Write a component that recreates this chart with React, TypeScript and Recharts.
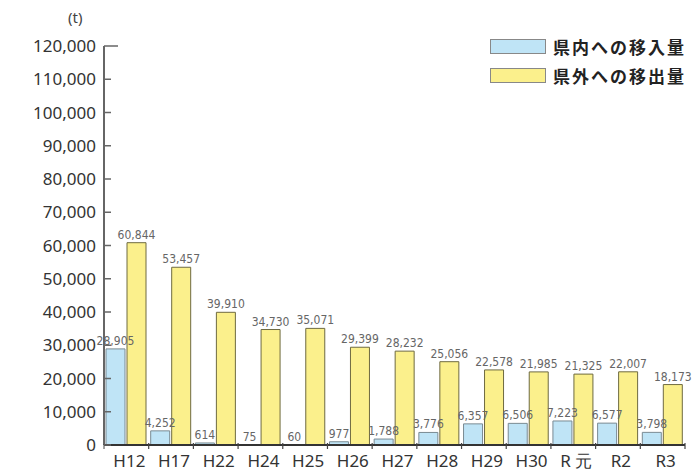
import { BarChart, Bar, XAxis, YAxis, LabelList } from 'recharts';

const categories = ['H12', 'H17', 'H22', 'H24', 'H25', 'H26', 'H27', 'H28', 'H29', 'H30', 'R 元', 'R2', 'R3'];
const inflow = [28905, 4252, 614, 75, 60, 977, 1788, 3776, 6357, 6506, 7223, 6577, 3798];
const outflow = [60844, 53457, 39910, 34730, 35071, 29399, 28232, 25056, 22578, 21985, 21325, 22007, 18173];
const yTicks = [0, 10000, 20000, 30000, 40000, 50000, 60000, 70000, 80000, 90000, 100000, 110000, 120000];

const data = categories.map((c, i) => ({ name: c, inflow: inflow[i], outflow: outflow[i] }));

const AXIS_X = 104;
const BAND = 581 / 13;

const fmt = (v: number) => v.toLocaleString('en-US');

const YTick = (props: any) => {
  const { y, payload } = props;
  const long = payload.value === 120000;
  return (
    <g>
      <line x1={AXIS_X} x2={AXIS_X + (long ? 14 : 7)} y1={y} y2={y} stroke="#666" strokeWidth={1.5} />
      <text x={96} y={y} dy={6} textAnchor="end" fontSize={17} fill="#333" fontFamily="'Noto Sans', sans-serif">
        {fmt(payload.value)}
      </text>
    </g>
  );
};

const XTick = (props: any) => {
  const { x, y, payload, index } = props;
  return (
    <g>
      {index === 0 && <line x1={x - BAND / 2} x2={x - BAND / 2} y1={y - 9} y2={y - 4} stroke="#444" />}
      <line x1={x + BAND / 2} x2={x + BAND / 2} y1={y - 10} y2={y - 4} stroke="#444" strokeWidth={1.2} />
      <text x={x + 3} y={y} dy={14} textAnchor="middle" fontSize={17} fill="#333" fontFamily="'Noto Sans', sans-serif">
        {payload.value}
      </text>
    </g>
  );
};

const labelStyle = {
  fontSize: 12,
  fill: '#666',
  fontFamily: "'DejaVu Sans Condensed', 'Liberation Sans Narrow', sans-serif",
};

const legendItems = [
  { label: '県内への移入量', color: '#bfe4f6' },
  { label: '県外への移出量', color: '#fbf08c' },
];

export default function App() {
  return (
    <div style={{ position: 'absolute', left: 0, top: 0, width: 697, height: 473, background: '#fff', overflow: 'hidden' }}>
      <div style={{ position: 'absolute', left: 68, top: 7, fontSize: 15, color: '#444', fontFamily: "'Noto Sans', sans-serif" }}>
        (t)
      </div>
      <div
        style={{
          position: 'absolute',
          left: 490,
          top: 32,
          fontFamily: "'Noto Sans CJK JP', sans-serif",
          fontSize: 17,
          color: '#222',
          fontWeight: 'bold',
          zIndex: 2,
        }}
      >
        {legendItems.map((it, i) => (
          <div key={i} style={{ display: 'flex', alignItems: 'center', height: 29 }}>
            <div style={{ width: 54, height: 13, background: it.color, border: '1px solid #888', marginRight: 7 }} />
            <span style={{ letterSpacing: 2 }}>{it.label}</span>
          </div>
        ))}
      </div>
      <BarChart
        width={697}
        height={473}
        data={data}
        margin={{ top: 46, right: 12, left: 0, bottom: 0 }}
        barCategoryGap={2}
        barGap={2}
      >
        <XAxis
          dataKey="name"
          height={28}
          tickLine={false}
          axisLine={{ stroke: '#333', strokeWidth: 2 }}
          tick={<XTick />}
          interval={0}
        />
        <YAxis
          width={104}
          domain={[0, 120000]}
          ticks={yTicks}
          interval={0}
          tickLine={false}
          axisLine={{ stroke: '#666', strokeWidth: 2 }}
          tick={<YTick />}
        />
        <Bar dataKey="inflow" barSize={19} fill="#bfe4f6" stroke="#7a8a92" strokeWidth={1} isAnimationActive={false}>
          <LabelList dataKey="inflow" position="top" offset={4} formatter={(v: any) => fmt(v)} style={labelStyle} />
        </Bar>
        <Bar dataKey="outflow" barSize={19} fill="#fbf08c" stroke="#6e6a40" strokeWidth={1} isAnimationActive={false}>
          <LabelList dataKey="outflow" position="top" offset={4} formatter={(v: any) => fmt(v)} style={labelStyle} />
        </Bar>
      </BarChart>
    </div>
  );
}
